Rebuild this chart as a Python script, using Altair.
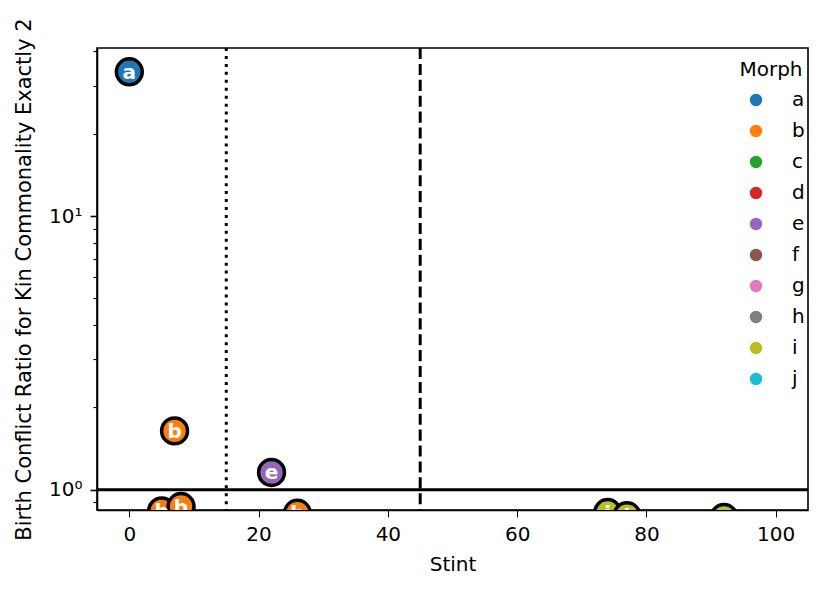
import altair as alt
import pandas as pd

# Data
morph = ["a", "b", "b", "b", "e", "b", "i", "i", "i"]
stint = [0, 5, 7, 8, 22, 26, 74, 77, 92]
ratio = [33.7, 0.837, 1.64, 0.868, 1.156, 0.820, 0.825, 0.803, 0.791]

categories = ["a", "b", "c", "d", "e", "f", "g", "h", "i", "j"]
palette = ["#1f77b4", "#ff7f0e", "#2ca02c", "#d62728", "#9467bd",
           "#8c564b", "#e377c2", "#7f7f7f", "#bcbd22", "#17becf"]

vline_x = [15, 45]
vline_style = ["dotted", "dashed"]
hline_y = [1]

y_ticks = [0.9, 1, 2, 3, 4, 5, 6, 7, 8, 9, 10, 20, 30, 40]
x_ticks = [0, 20, 40, 60, 80, 100]

pts = pd.DataFrame({"morph": morph, "stint": stint, "ratio": ratio})
vl = pd.DataFrame({"stint": vline_x, "style": vline_style})
hl = pd.DataFrame({"ratio": hline_y})

FONT = "DejaVu Sans"
xscale = alt.Scale(domain=[-5, 105], nice=False, zero=False)
yscale = alt.Scale(type="log", domain=[0.843, 41.17], nice=False)

xaxis = alt.Axis(values=x_ticks, tickSize=7, labelPadding=7, titlePadding=10)
yaxis = alt.Axis(
    values=y_ticks,
    tickSize={"condition": {"test": "datum.value == 1 || datum.value == 10", "value": 7}, "value": 4},
    tickWidth={"condition": {"test": "datum.value == 1 || datum.value == 10", "value": 1.6}, "value": 1.2},
    labelExpr="datum.value == 1 ? '10⁰' : (datum.value == 10 ? '10¹' : '')",
    labelPadding=8,
    titlePadding=14,
    titleFontSize=21,
)

X = lambda: alt.X("stint:Q", scale=xscale, axis=xaxis, title="Stint")
Y = lambda: alt.Y("ratio:Q", scale=yscale, axis=yaxis,
                  title="Birth Conflict Ratio for Kin Commonality Exactly 2")

points = alt.Chart(pts).mark_circle(
    stroke="black", strokeWidth=3.5, opacity=1, size=670, clip=True
).encode(
    x=X(), y=Y(),
    color=alt.Color(
        "morph:N",
        scale=alt.Scale(domain=categories, range=palette),
        legend=alt.Legend(
            title="Morph", orient="none", legendX=641, legendY=12,
            symbolType="circle", symbolSize=154, symbolStrokeWidth=0,
            symbolOpacity=1, symbolOffset=8, labelOffset=26,
            rowPadding=11, titlePadding=10, padding=0, titleAnchor="middle",
        ),
    ),
    order=alt.Order("stint:Q"),
)

labels = alt.Chart(pts).mark_text(
    color="white", fontWeight="bold", fontSize=20, font=FONT,
    baseline="middle", align="center", clip=True, dy=1
).encode(x=X(), y=Y(), text="morph:N")

vrules = alt.Chart(vl).mark_rule(color="black", strokeWidth=3).encode(
    x=X(),
    strokeDash=alt.StrokeDash(
        "style:N",
        scale=alt.Scale(domain=["dotted", "dashed"], range=[[3, 4.95], [11.1, 4.8]]),
        legend=None,
    ),
)

hrule = alt.Chart(hl).mark_rule(color="black", strokeWidth=3).encode(y=Y())

chart = alt.layer(points, vrules, hrule, labels).properties(
    width=711, height=462, autosize="none",
    padding={"left": 89, "top": 40, "right": 15, "bottom": 72},
    background="white",
).configure_view(
    stroke="black", strokeWidth=1.6
).configure_axis(
    grid=False, domainColor="black", domainWidth=1.6, tickColor="black",
    labelColor="black", labelFont=FONT, labelFontSize=20,
    titleFont=FONT, titleFontSize=20, titleFontWeight="normal", titleColor="black",
).configure_legend(
    labelFont=FONT, labelFontSize=20, labelColor="black",
    titleFont=FONT, titleFontSize=20, titleFontWeight="normal", titleColor="black",
)

chart.save("out.html", embed_options={"renderer": "svg", "actions": False})
